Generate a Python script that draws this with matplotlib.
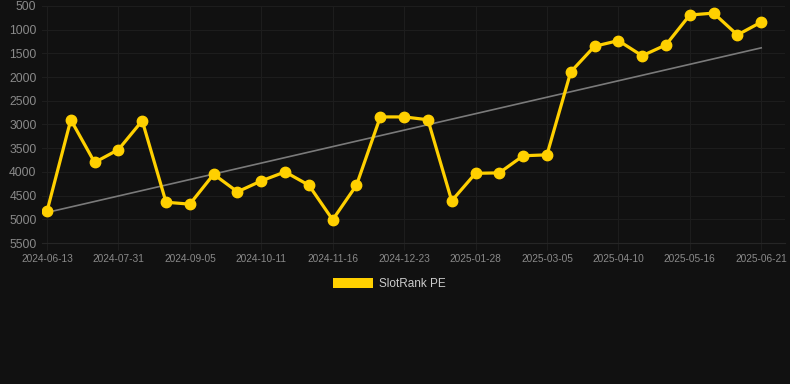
import matplotlib
matplotlib.use("Agg")
import matplotlib.pyplot as plt
from matplotlib.patches import Patch
import numpy as np

# 排名数据 (数值越小越好, y轴反向)
rank_pe = [4830, 2900, 3800, 3530, 2920, 4640, 4680, 4050, 4420, 4190,
           4000, 4280, 5010, 4280, 2840, 2840, 2900, 4610, 4030, 4020,
           3660, 3640, 1890, 1350, 1230, 1550, 1320, 690, 650, 1110, 840]
# 每3个点一个日期标签
date_labels = ["2024-06-13", "2024-07-31", "2024-09-05", "2024-10-11",
               "2024-11-16", "2024-12-23", "2025-01-28", "2025-03-05",
               "2025-04-10", "2025-05-16", "2025-06-21"]
y_ticks = [500, 1000, 1500, 2000, 2500, 3000, 3500, 4000, 4500, 5000, 5500]

bg = "#111111"
yellow = "#FFD000"
plt.rcParams['font.family'] = ['Liberation Sans', 'DejaVu Sans']

fig = plt.figure(figsize=(7.9, 3.84), dpi=100, facecolor=bg)
ax = fig.add_axes([42 / 790, 1 - 243 / 384, 743 / 790, 237 / 384])
ax.set_facecolor(bg)

x = np.arange(len(rank_pe))
# 趋势线 (线性拟合)
k, b = np.polyfit(x, rank_pe, 1)
ax.plot(x, k * x + b, color="#7a7a7a", lw=1.2, zorder=2)
ax.plot(x, rank_pe, color=yellow, lw=2.3, marker="o", ms=7.5, zorder=3)

ax.set_xlim(-0.21, 31.0)
ax.set_ylim(5500, 500)
ax.set_yticks(y_ticks)
ax.set_yticklabels([str(v) for v in y_ticks])
ax.set_xticks(x[::3])
ax.set_xticklabels(date_labels)

ax.grid(True, color="#1d1d1d", lw=0.8)
ax.tick_params(axis="y", length=0, pad=4, labelsize=8.7, labelcolor="#8a8a8a")
ax.tick_params(axis="x", length=5, color="#1d1d1d", pad=3, labelsize=7.3, labelcolor="#8a8a8a")
for s in ["top", "right", "left"]:
    ax.spines[s].set_visible(False)
ax.spines["bottom"].set_color("#262626")

# 图例
fig.legend(handles=[Patch(facecolor=yellow, label="SlotRank PE")],
           loc="center", bbox_to_anchor=(389.5 / 790, 1 - 284 / 384),
           frameon=False, handlelength=3.4, handleheight=1.0,
           handletextpad=0.5, fontsize=8.5, labelcolor="#cccccc")

fig.savefig("out.png", dpi=100, facecolor=bg)
